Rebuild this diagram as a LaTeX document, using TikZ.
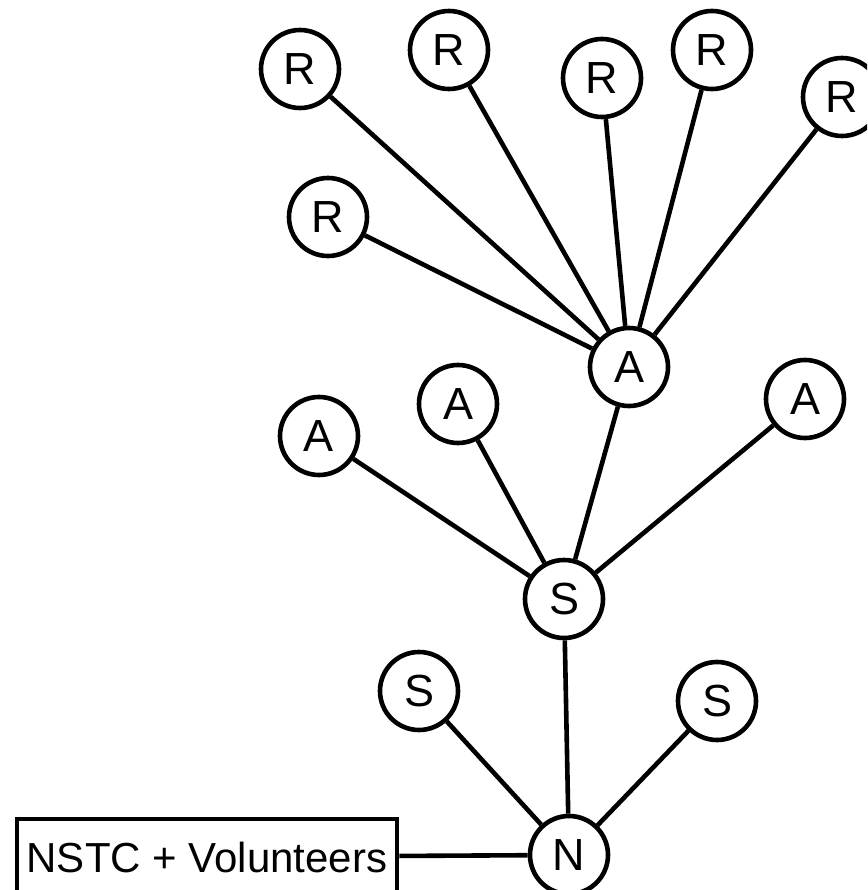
\documentclass[tikz,border=0pt]{standalone}
\usepackage{fontspec}
\setmainfont{Liberation Sans}
\usetikzlibrary{positioning}

\begin{document}
\begin{tikzpicture}[x=1pt, y=-1pt, line width=4.6pt,
    vtx/.style={circle, draw, inner sep=0pt, minimum size=78pt, font=\fontsize{45}{50}\selectfont},
    lbl/.style={rectangle, draw, inner sep=0pt, minimum width=380pt, minimum height=76pt, font=\fontsize{42}{48}\selectfont}]
    \useasboundingbox (0,0) rectangle (867,890);
    \clip (0,0) rectangle (867,890);
    %
    \node [vtx] (r1) at (300,69) {R};
    \node [vtx] (r2) at (449,50) {R};
    \node [vtx] (r3) at (602,78) {R};
    \node [vtx] (r4) at (712,50) {R};
    \node [vtx] (r5) at (842,97) {R};
    \node [vtx] (r6) at (328,217) {R};
    %
    \node [vtx] (a0) at (629,367) {A};
    \node [vtx] (a1) at (319,436) {A};
    \node [vtx] (a2) at (458,404) {A};
    \node [vtx] (a3) at (805,399) {A};
    %
    \node [vtx] (s0) at (564,599) {S};
    \node [vtx] (s1) at (419,691) {S};
    \node [vtx] (s2) at (717,701) {S};
    %
    \node [vtx] (n) at (569,855) {N};
    \node [lbl] (nstc) at (207,857) {NSTC + Volunteers};
    %
    \path (r1) edge (a0);
    \path (r2) edge (a0);
    \path (r3) edge (a0);
    \path (r4) edge (a0);
    \path (r5) edge (a0);
    \path (r6) edge (a0);
    \path (a0) edge (s0);
    \path (a1) edge (s0);
    \path (a2) edge (s0);
    \path (a3) edge (s0);
    \path (s0) edge (n);
    \path (s1) edge (n);
    \path (s2) edge (n);
    \path (nstc) edge (n);
\end{tikzpicture}
\end{document}
